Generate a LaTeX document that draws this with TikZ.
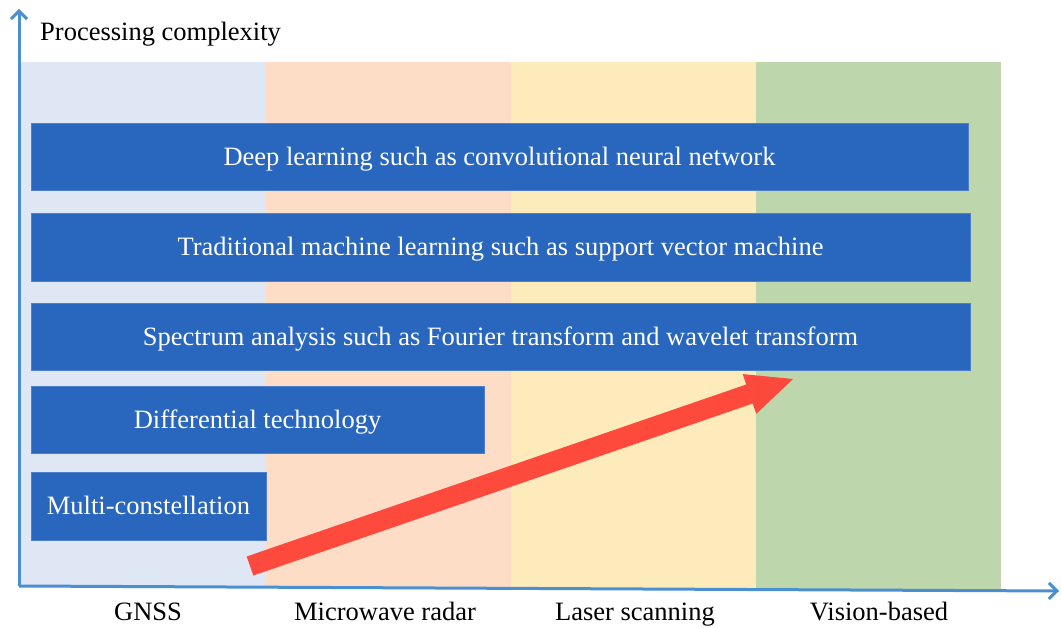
\documentclass[tikz,border=0pt]{standalone}
\usepackage{fontspec}
\setmainfont{Liberation Serif}
\usetikzlibrary{arrows.meta}
\definecolor{axisblue}{HTML}{4A8FD2}
\definecolor{barblue}{HTML}{2966BD}
\definecolor{barline}{HTML}{4D7FCB}
\definecolor{colA}{HTML}{DFE6F4}
\definecolor{colB}{HTML}{FDDDC6}
\definecolor{colC}{HTML}{FEEBBC}
\definecolor{colD}{HTML}{BDD6AB}
\definecolor{arrowred}{HTML}{FF4236}
\tikzset{
  bar/.style={fill=barblue, draw=barline, line width=0.8pt, text=white, font=\fontsize{26.5}{30}\selectfont, inner sep=0pt, text height=17.5pt, text depth=0pt},
  axislabel/.style={font=\fontsize{26.5}{30}\selectfont, text=black, inner sep=0pt, text height=17.5pt, text depth=0pt},
  axis/.style={draw=axisblue, line width=3pt, -{Straight Barb[length=8pt,width=16pt,line width=3pt]}}
}
\begin{document}
\begin{tikzpicture}[x=1pt,y=-1pt]
\useasboundingbox (0,0) rectangle (1061,628);
% columns
\fill[colA] (19,62) rectangle (266,587);
\fill[colB] (266,62) rectangle (511,588);
\fill[colC] (511,62) rectangle (756,589);
\fill[colD] (756,62) rectangle (1001,590);
% axes
\coordinate (origin) at (19,586);
\coordinate (ytop) at (19,9);
\coordinate (xend) at (1059,591);
\draw[axis] (origin) -- (ytop);
\draw[axis] (origin) -- (xend);
% bars
\node[bar, minimum width=937pt, minimum height=67pt] (b1) at (499.5,157) {Deep learning such as convolutional neural network};
\node[bar, minimum width=939pt, minimum height=68pt] (b2) at (500.5,247) {Traditional machine learning such as support vector machine};
\node[bar, minimum width=939pt, minimum height=67pt] (b3) at (500.5,336.5) {Spectrum analysis such as Fourier transform and wavelet transform};
\node[bar, minimum width=453pt, minimum height=67pt] (b4) at (257.5,419.5) {Differential technology};
\node[bar, minimum width=235pt, minimum height=68pt] (b5) at (148.5,506) {Multi-constellation};
% red arrow
\fill[arrowred, opacity=0.95] (246.7,556.5) -- (746.2,384.5) -- (742.7,374.1) -- (793,379) -- (756.3,413.9) -- (752.8,403.5) -- (253.3,575.5) -- cycle;
% labels
\node[axislabel, anchor=west] (ylab) at (40,32) {Processing complexity};
\node[axislabel] (l1) at (148,612) {GNSS};
\node[axislabel] (l2) at (385,612) {Microwave radar};
\node[axislabel] (l3) at (635,612) {Laser scanning};
\node[axislabel] (l4) at (879,612) {Vision-based};
\end{tikzpicture}
\end{document}
